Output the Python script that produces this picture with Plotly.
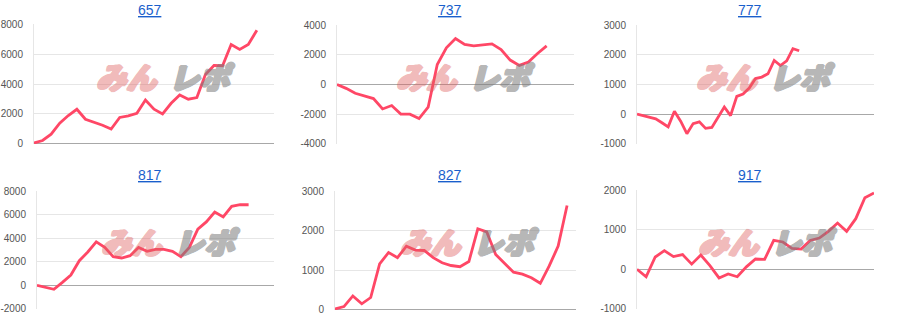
import plotly.graph_objects as go

titles = ["657", "737", "777", "817", "827", "917"]

s657 = [50, 220, 640, 1380, 1890, 2310, 1640, 1440, 1240, 980, 1760, 1870, 2040, 2930,
        2310, 2000, 2710, 3270, 2980, 3090, 4640, 5240, 5220, 6640, 6310, 6640, 7600]
s737 = [0, -260, -590, -750, -950, -1650, -1420, -2000, -2000, -2300, -1530, 1350, 2480,
        3100, 2700, 2610, 2680, 2740, 2360, 1650, 1290, 1510, 2090, 2610]
s777 = [0, -50, -120, -160, -290, -430, 100, -240, -660, -320, -260, -480, -450, -90,
        240, -50, 600, 680, 880, 1200, 1250, 1360, 1810, 1640, 1800, 2210, 2140]
s817 = [0, -200, -340, 250, 870, 2090, 2830, 3700, 3220, 2440, 2320, 2520, 3220, 2890,
        3060, 3060, 2890, 2440, 3220, 4770, 5390, 6230, 5810, 6710, 6850, 6850]
s827 = [20, 80, 350, 150, 310, 1160, 1450, 1320, 1610, 1510, 1500, 1320, 1190, 1120,
        1090, 1220, 2050, 1970, 1400, 1180, 950, 900, 810, 670, 1110, 1610, 2640]
s917 = [0, -190, 310, 470, 320, 370, 130, 360, 90, -220, -120, -190, 60, 260, 250, 730,
        690, 530, 510, 730, 790, 960, 1170, 960, 1280, 1810, 1930]

series = [s657, s737, s777, s817, s827, s917]

x_max = [28, 26, 38, 28, 27, 26]
y_ticks = [
    [0, 2000, 4000, 6000, 8000],
    [-4000, -2000, 0, 2000, 4000],
    [-1000, 0, 1000, 2000, 3000],
    [-2000, 0, 2000, 4000, 6000, 8000],
    [0, 1000, 2000, 3000],
    [-1000, 0, 1000, 2000],
]
y_tick_text = [[str(v) for v in t] for t in y_ticks]

W, H = 900, 330
# plot areas in pixels: x0, x1, y0 (top), y1 (bottom)
boxes = [
    (34, 274, 24, 144),
    (337, 574, 25, 144),
    (637, 874, 25, 144),
    (37, 274, 191, 309),
    (335, 576, 191, 310),
    (637, 874, 190, 309),
]
title_pos = [(150, 10), (450, 10), (750, 10), (150, 175), (450, 175), (750, 175)]
logo_pos = [(163, 76), (463, 76), (763, 76), (168, 241), (467, 241), (765, 241)]


def thick_shadow(c):
    offs = [(1, 0), (-1, 0), (2, 0), (0, 1), (1, 1), (-1, 1), (0, -1), (1, -1)]
    return ", ".join(f"{dx}px {dy}px 0 {c}" for dx, dy in offs)


pink = "rgb(222,95,95)"
grey = "rgb(125,125,125)"

fig = go.Figure()
annotations = []
for i in range(6):
    k = "" if i == 0 else str(i + 1)
    x0, x1, y0, y1 = boxes[i]
    span = y_ticks[i][-1] - y_ticks[i][0]
    eps = span * 0.002
    fig.add_trace(go.Scatter(
        x=list(range(len(series[i]))), y=series[i], mode="lines",
        line=dict(color="#ff4766", width=2.8), xaxis="x" + k, yaxis="y" + k,
        showlegend=False, hoverinfo="skip"))
    fig.update_layout(**{
        "xaxis" + k: dict(domain=[x0 / W, x1 / W], range=[0, x_max[i]], showgrid=False,
                          zeroline=False, showticklabels=False, showline=False,
                          anchor="y" + k, fixedrange=True, automargin=False),
        "yaxis" + k: dict(domain=[1 - y1 / H, 1 - y0 / H],
                          range=[y_ticks[i][0] - eps, y_ticks[i][-1] + eps],
                          tickvals=y_ticks[i], ticktext=y_tick_text[i],
                          showgrid=True, gridcolor="#e6e6e6", gridwidth=1,
                          zeroline=True, zerolinecolor="#a8a8a8", zerolinewidth=1,
                          showline=True, linecolor="#e6e6e6", linewidth=1,
                          ticks="", ticklabelstandoff=8, automargin=False,
                          tickfont=dict(family="Liberation Sans, Arial", size=10, color="#555555"),
                          anchor="x" + k, fixedrange=True),
    })
    tx, ty = title_pos[i]
    annotations.append(dict(
        text="<u>" + titles[i] + "</u>", x=tx / W, y=1 - ty / H, xref="paper", yref="paper",
        xanchor="center", yanchor="middle", showarrow=False,
        font=dict(family="Liberation Sans, Arial", size=14, color="#1a5fcc")))
    lx, ly = logo_pos[i]
    annotations.append(dict(
        text="みん", x=(lx - 4) / W, y=1 - ly / H, xref="paper", yref="paper",
        xanchor="right", yanchor="middle", showarrow=False, opacity=0.42,
        font=dict(family="Noto Sans CJK JP", size=30, color=pink, weight=900,
                  style="italic", shadow=thick_shadow(pink))))
    annotations.append(dict(
        text="レポ", x=(lx + 4) / W, y=1 - ly / H, xref="paper", yref="paper",
        xanchor="left", yanchor="middle", showarrow=False, opacity=0.55,
        font=dict(family="Noto Sans CJK JP", size=30, color=grey, weight=900,
                  style="italic", shadow=thick_shadow(grey))))

fig.update_layout(
    width=W, height=H, margin=dict(l=0, r=0, t=0, b=0, pad=0, autoexpand=False),
    paper_bgcolor="white", plot_bgcolor="white",
    annotations=annotations,
)
fig.write_html("out.html")
